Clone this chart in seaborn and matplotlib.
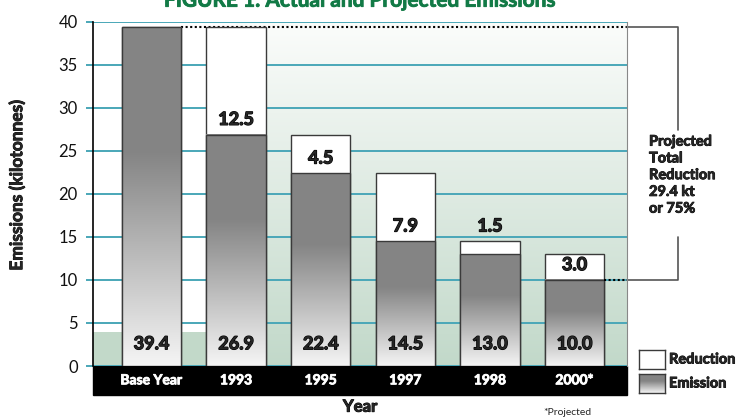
import numpy as np
import pandas as pd
import matplotlib
matplotlib.use("Agg")
import matplotlib.pyplot as plt
import matplotlib.patheffects as pe
from matplotlib.patches import Rectangle
import seaborn as sns

# %% data
years = ["Base Year", "1993", "1995", "1997", "1998", "2000*"]
emission = [39.4, 26.9, 22.4, 14.5, 13.0, 10.0]
reduction = [0.0, 12.5, 4.5, 7.9, 1.5, 3.0]
yticks = [0, 5, 10, 15, 20, 25, 30, 35, 40]
total_reduction = "29.4 kt"
total_pct = "75%"

df = pd.DataFrame({"year": years, "emission": emission, "reduction": reduction})
df["total"] = df["emission"] + df["reduction"]

sns.set_style("white")
plt.rcParams["font.family"] = ["Lato", "DejaVu Sans"]

TEAL = "#4aa7b8"
GREEN = np.array([0.76, 0.85, 0.79])
EDGE = "#3a3a3a"
XLIM = (-0.69, 5.62)


def heavy(color="black", w=0.7):
    # fake a heavier weight than Lato Bold
    return [pe.withStroke(linewidth=w, foreground=color)]


def gray_ramp(n=256):
    # dark flat top, fading to near white at the bottom
    t = np.linspace(0, 1, n)[:, None]
    shade = np.where(t > 0.63, 0.52, 0.96 + (0.52 - 0.96) * t / 0.63)
    return np.repeat(shade[:, :, None], 3, axis=2)


fig = plt.figure(figsize=(7.52, 4.18), dpi=100)
ax = fig.add_axes([0.1237, 0.1244, 0.7101, 0.823])

# %% bars: white totals, gradient emissions on top
sns.barplot(data=df, x="year", y="total", color="white", edgecolor=EDGE,
            linewidth=1.0, width=0.7, saturation=1, ax=ax)
n = len(ax.patches)
sns.barplot(data=df, x="year", y="emission", color="#858585", edgecolor=EDGE,
            linewidth=1.0, width=0.7, saturation=1, ax=ax)
em_bars = ax.patches[n:]

ramp = gray_ramp()
for p in em_bars:
    x0, w, h = p.get_x(), p.get_width(), p.get_height()
    ax.imshow(ramp, extent=(x0, x0 + w, 0, h), origin="lower", aspect="auto",
              zorder=1.1, interpolation="bilinear")
    p.set_facecolor("none")
    p.set_zorder(1.2)

# %% background
t = np.linspace(0, 1, 256)[:, None, None]
top = np.array([0.985, 0.99, 0.985])
bg = GREEN * (1 - t) + top * t
ax.imshow(bg, extent=(1.0, XLIM[1], 0, 40), origin="lower", aspect="auto", zorder=0.1)
ax.add_patch(Rectangle((XLIM[0], 0), 1.0 - XLIM[0], 4.0, color=GREEN, zorder=0.1, lw=0))

ax.set_xlim(*XLIM)
ax.set_ylim(0, 40)
ax.set_yticks(yticks)
ax.yaxis.grid(True, color=TEAL, lw=1.4)
ax.set_axisbelow(True)
ax.tick_params(axis="y", colors=TEAL, length=5, width=1.4, labelsize=12,
               labelcolor="#111111", pad=6, left=True)
for s in ["top", "bottom"]:
    ax.spines[s].set_visible(False)
ax.spines["left"].set_color("black")
ax.spines["left"].set_linewidth(1.2)
ax.spines["right"].set_color("#888888")
ax.spines["right"].set_linewidth(0.8)

# black year band
band_h = 29 / 344
ax.add_patch(Rectangle((0, -band_h), 1, band_h, transform=ax.transAxes,
                       color="black", clip_on=False, zorder=0.2))
ax.set_xticks(range(len(years)))
ax.set_xticklabels(years, color="white", fontweight="bold", fontsize=10)
for lab in ax.get_xticklabels():
    lab.set_path_effects(heavy("white", 0.6))
ax.tick_params(axis="x", length=0, pad=6)

ax.set_xlabel("Year", fontweight="bold", fontsize=12, path_effects=heavy())
ax.xaxis.set_label_coords(0.5, -0.095)
ax.set_ylabel("Emissions (kilotonnes)", fontweight="bold", fontsize=12.5,
              path_effects=heavy(w=0.6))
ax.yaxis.set_label_coords(-0.127, 0.525)

# %% value labels
for p, e, r in zip(em_bars, emission, reduction):
    cx = p.get_x() + p.get_width() / 2
    ax.annotate(f"{e:.1f}", (cx, 0), xytext=(0, 16), textcoords="offset points",
                ha="center", va="center", fontweight="bold", fontsize=13, zorder=3,
                path_effects=heavy(w=0.9))
    if r > 0:
        anchor = e if r >= 2.5 else e + r
        ax.annotate(f"{r:.1f}", (cx, anchor), xytext=(0, 11), textcoords="offset points",
                    ha="center", va="center", fontweight="bold", fontsize=13, zorder=3,
                    path_effects=heavy(w=0.9))

# %% projected total reduction bracket
b0, b5 = em_bars[0], em_bars[-1]
xb = 6.22
ax.plot([b0.get_x() + b0.get_width(), XLIM[1]], [emission[0]] * 2, ls=(0, (1, 1.2)),
        color="black", lw=1.5, zorder=0.9)
ax.plot([b5.get_x() + b5.get_width(), XLIM[1]], [emission[-1]] * 2, ls=(0, (1, 1.2)),
        color="black", lw=1.5, zorder=1.3)
ax.plot([XLIM[1], xb, xb], [emission[0], emission[0], 27.4], color="#555555", lw=1.2,
        clip_on=False)
ax.plot([XLIM[1], xb, xb], [emission[-1], emission[-1], 15.0], color="#555555", lw=1.2,
        clip_on=False)
ax.text(5.88, 26.9, f"Projected\nTotal\nReduction\n{total_reduction}\nor {total_pct}",
        ha="left", va="top", fontweight="bold", fontsize=10.5, linespacing=1.25,
        clip_on=False, path_effects=heavy(w=0.6))

# %% legend swatches
lx, lw_, lh = 639 / 752, 26 / 752, 19 / 418
for (yb, label, img) in [((418 - 369) / 418, "Reduction", None),
                         ((418 - 393) / 418, "Emission", ramp)]:
    la = fig.add_axes([lx, yb, lw_, lh])
    if img is None:
        la.set_facecolor("white")
    else:
        la.imshow(img, origin="lower", aspect="auto", extent=(0, 1, 0, 1))
    la.set_xticks([])
    la.set_yticks([])
    for s in la.spines.values():
        s.set_color(EDGE)
        s.set_linewidth(1.0)
    fig.text(669 / 752, yb + lh / 2, label, ha="left", va="center",
             fontweight="bold", fontsize=10.5, path_effects=heavy(w=0.6))

fig.text(543 / 752, 0.014, "*Projected", ha="left", va="center", fontsize=7.5)
fig.text(0.479, 0.984, "FIGURE 1: Actual and Projected Emissions", ha="center",
         va="baseline", color="#127a46", fontweight="bold", fontsize=15,
         path_effects=heavy("#127a46", 0.6))

fig.savefig("out.png", dpi=100)
